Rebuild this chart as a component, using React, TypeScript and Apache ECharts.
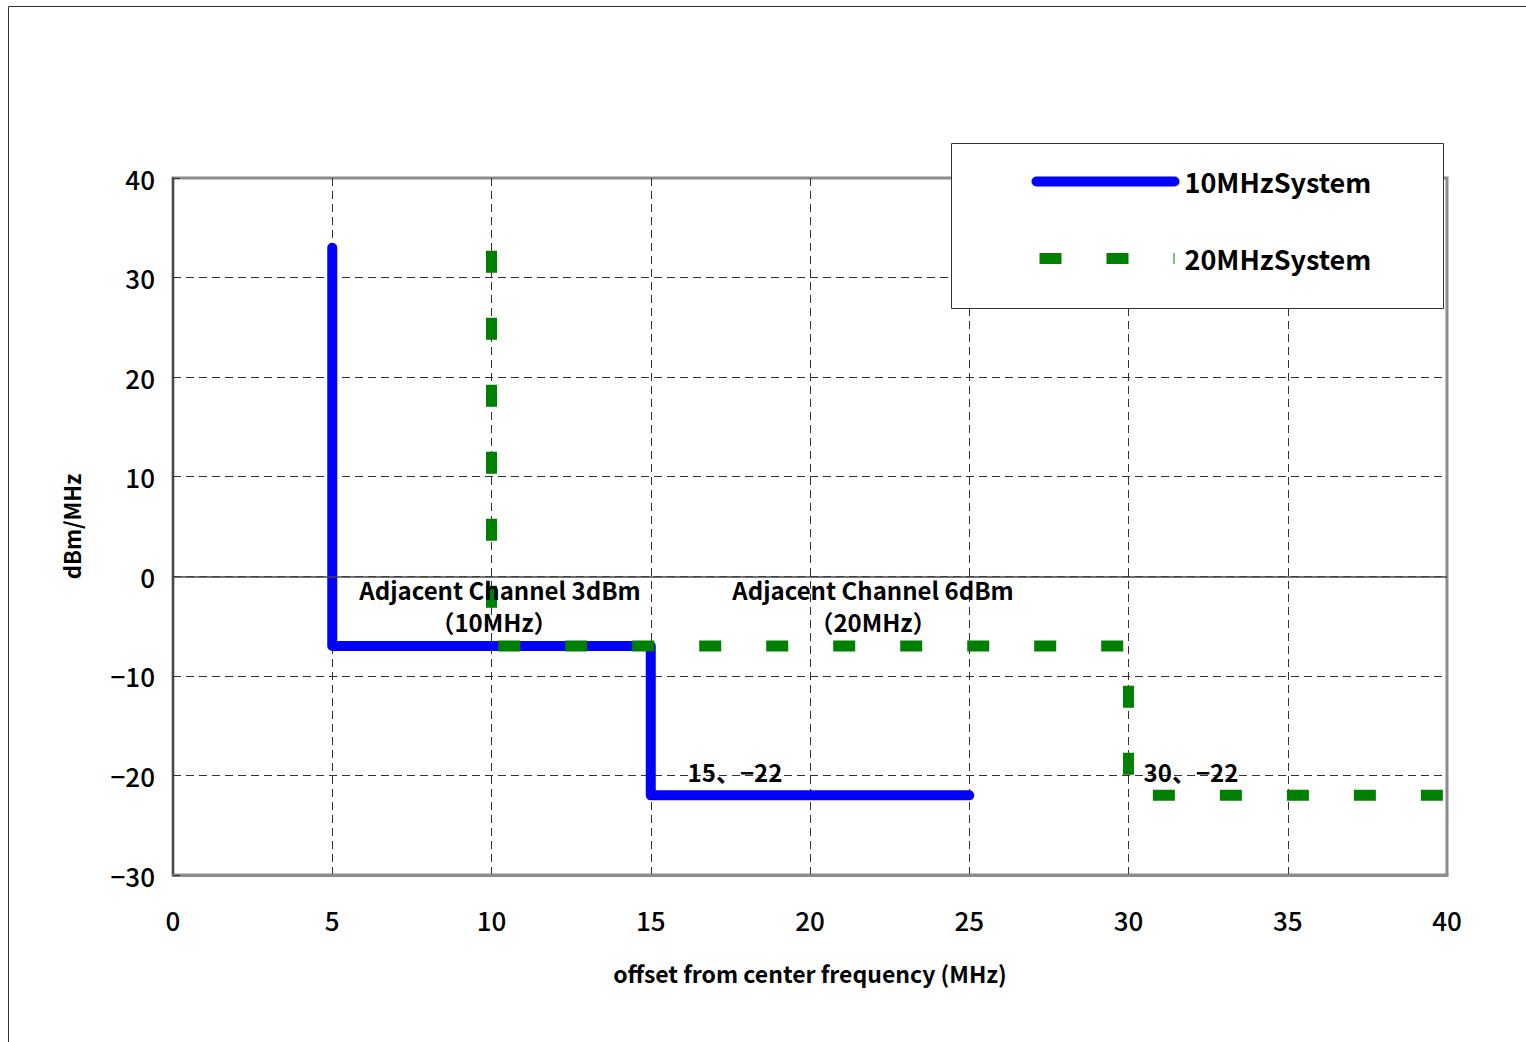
import React, { useEffect, useRef } from "react";
import * as echarts from "echarts";

// ---- data ----
const seriesNames = ["10MHzSystem", "20MHzSystem"];
const system10MHz: [number, number][] = [
  [5, 33],
  [5, -7],
  [15, -7],
  [15, -22],
  [25, -22],
];
const system20MHz: [number, number][] = [
  [10, 33],
  [10, -7],
  [30, -7],
  [30, -22],
  [40, -22],
];
const xRange = [0, 40];
const xStep = 5;
const yRange = [-30, 40];
const yStep = 10;
const xAxisTitle = "offset from center frequency (MHz)";
const yAxisTitle = "dBm/MHz";
const annotationTexts = [
  "Adjacent Channel 3dBm",
  "（10MHz）",
  "Adjacent Channel 6dBm",
  "（20MHz）",
  "15、−22",
  "30、−22",
];

const FONT = "'Noto Sans CJK JP', 'Noto Sans', sans-serif";

export default function App() {
  const ref = useRef<HTMLDivElement>(null);

  useEffect(() => {
    if (!ref.current) return;
    const chart = echarts.init(ref.current, undefined, { renderer: "svg" });

    const annPos = [
      [500, 589],
      [494, 621],
      [873, 589],
      [873, 621],
      [735, 771],
      [1191, 771],
    ];

    const option: any = {
      animation: false,
      backgroundColor: "#ffffff",
      grid: {
        left: 173,
        top: 178,
        right: 79,
        bottom: 167,
        show: true,
        borderColor: "#8c8c8c",
        borderWidth: 3,
        backgroundColor: "transparent",
      },
      legend: {
        orient: "vertical",
        left: 1031,
        top: 168,
        padding: 0,
        itemWidth: 138,
        itemHeight: 20,
        itemGap: 50,
        data: seriesNames,
        selectedMode: false,
        z: 6,
        itemStyle: { opacity: 0, borderWidth: 0 },
        textStyle: {
          fontFamily: FONT,
          fontSize: 27,
          fontWeight: "bold",
          color: "#000",
          padding: [24, 0, 0, 5],
        },
        lineStyle: { width: "inherit", cap: "inherit" },
      },
      xAxis: {
        type: "value",
        min: xRange[0],
        max: xRange[1],
        interval: xStep,
        axisLine: { onZero: false, show: true, lineStyle: { color: "#8c8c8c", width: 3 } },
        axisTick: { show: false },
        axisLabel: {
          margin: 31,
          fontFamily: FONT,
          fontSize: 26,
          fontWeight: 500,
          color: "#000",
        },
        splitLine: {
          show: true,
          showMinLine: false,
          showMaxLine: false,
          lineStyle: { color: "#333", width: 1, type: [8, 5] },
        },
        name: xAxisTitle,
        nameLocation: "middle",
        nameGap: 86,
        nameTextStyle: {
          fontFamily: FONT,
          fontSize: 23,
          fontWeight: "bold",
          color: "#000",
        },
      },
      yAxis: {
        type: "value",
        min: yRange[0],
        max: yRange[1],
        interval: yStep,
        axisLine: { show: true, lineStyle: { color: "#333", width: 1.5 } },
        axisTick: { show: true, inside: true, length: 7, lineStyle: { color: "#333" } },
        axisLabel: {
          margin: 18,
          fontFamily: FONT,
          fontSize: 26,
          fontWeight: 500,
          color: "#000",
          formatter: (v: number) => String(v).replace("-", "−"),
        },
        splitLine: {
          show: true,
          showMinLine: false,
          showMaxLine: false,
          lineStyle: { color: "#333", width: 1, type: [8, 5] },
        },
        name: yAxisTitle,
        nameLocation: "middle",
        nameGap: 91,
        nameTextStyle: {
          fontFamily: FONT,
          fontSize: 22,
          fontWeight: "bold",
          color: "#000",
        },
      },
      series: [
        {
          name: seriesNames[0],
          type: "line",
          data: system10MHz,
          showSymbol: false,
          symbol: "none",
          symbolSize: 0,
          lineStyle: { color: "#0000ff", width: 10, cap: "round", join: "round" },
          itemStyle: { color: "#0000ff" },
          markLine: {
            silent: true,
            symbol: "none",
            label: { show: false },
            lineStyle: { color: "#444", width: 1.5, type: "solid" },
            data: [{ yAxis: 0 }],
          },
          z: 2,
        },
        {
          name: seriesNames[1],
          type: "line",
          data: system20MHz,
          showSymbol: false,
          symbol: "none",
          symbolSize: 0,
          lineStyle: {
            color: "#008000",
            width: 11,
            type: [22, 45],
            dashOffset: 64,
            cap: "butt",
            join: "miter",
          },
          itemStyle: { color: "#008000" },
          z: 3,
        },
      ],
      graphic: [
        {
          type: "rect",
          silent: true,
          z: -1,
          shape: { x: 8.5, y: 6.5, width: 1560, height: 1080 },
          style: { fill: "none", stroke: "#333", lineWidth: 1 },
        },
        {
          type: "rect",
          silent: true,
          z: 5,
          shape: { x: 951.5, y: 143.5, width: 492, height: 165 },
          style: { fill: "#fff", stroke: "#333", lineWidth: 1 },
        },
        ...annotationTexts.map((t, i) => ({
          type: "text",
          silent: true,
          z: 7,
          x: annPos[i][0],
          y: annPos[i][1],
          style: {
            text: t,
            fontFamily: FONT,
            fontSize: 24,
            fontWeight: "bold",
            fill: "#000",
            align: "center",
            verticalAlign: "middle",
          },
        })),
      ],
    };

    chart.setOption(option);
    return () => chart.dispose();
  }, []);

  return (
    <div
      ref={ref}
      style={{ position: "fixed", left: 0, top: 0, width: 1526, height: 1042 }}
    />
  );
}
